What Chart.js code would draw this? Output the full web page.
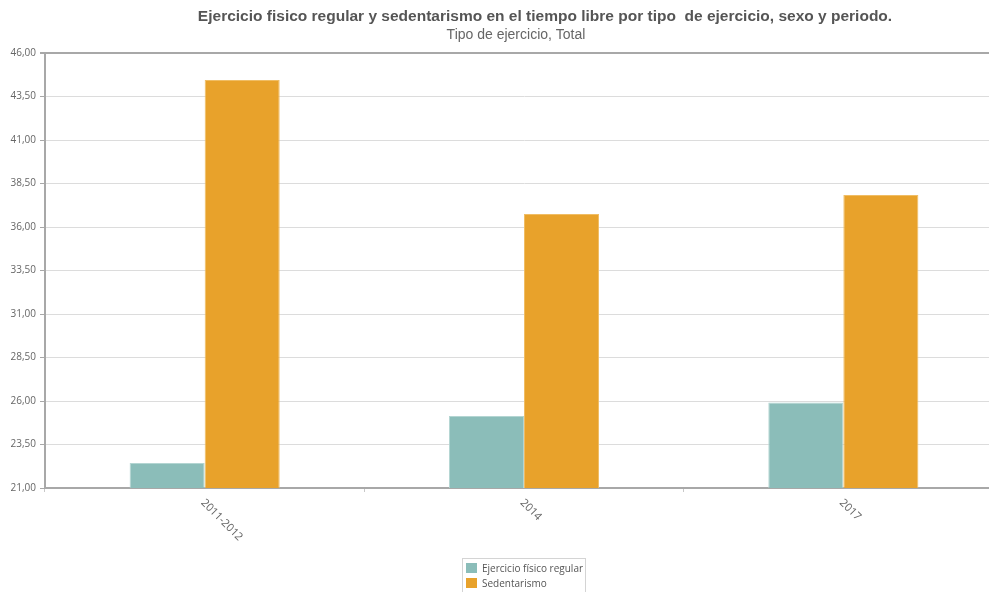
<!DOCTYPE html>
<html>
<head>
<meta charset="utf-8">
<script src="https://cdn.jsdelivr.net/npm/chart.js@4"></script>
<style>
    html, body { margin: 0; padding: 0; background: #fff; overflow: hidden; }
    #wrap { position: relative; width: 1090px; height: 592px; }
    #legend {
        position: absolute; left: 462px; top: 558px; width: 119px;
        border: 1px solid #d4d4d4; border-bottom: none; padding: 4px 0 0 3px;
        font: 10px "Open Sans", sans-serif; color: #555;
    }
    #legend div { height: 15px; line-height: 11px; white-space: nowrap; }
    #legend span { display: inline-block; width: 11px; height: 10px; margin-right: 5px; vertical-align: top; }
</style>
</head>
<body>
<div id="wrap">
    <canvas id="chart" width="1090" height="592"></canvas>
    <div id="legend"></div>
</div>
<script>
const periodos = ['2011-2012', '2014', '2017'];
const ejercicioRegular = [22.44, 25.14, 25.92];
const sedentarismo = [44.45, 36.75, 37.84];
const yMin = 21;
const yMax = 46;
const yStep = 2.5;

const titulo = 'Ejercicio fisico regular y sedentarismo en el tiempo libre por tipo  de ejercicio, sexo y periodo.';
const subtitulo = 'Tipo de ejercicio, Total';

// titulo y subtitulo (no van centrados igual en el original)
const titlesPlugin = {
    id: 'titles',
    afterDraw(chart) {
        const ctx = chart.ctx;
        ctx.save();
        ctx.textAlign = 'center';
        ctx.textBaseline = 'middle';
        ctx.fillStyle = '#555';
        ctx.font = 'bold 15.5px "Liberation Sans", Arial, sans-serif';
        ctx.fillText(titulo, 545, 17);
        ctx.fillStyle = '#666';
        ctx.font = '14px "Liberation Sans", Arial, sans-serif';
        ctx.fillText(subtitulo, 516, 35);
        ctx.restore();
    }
};

// etiquetas del eje x giradas en sentido horario
const xLabelsPlugin = {
    id: 'xLabels',
    afterDraw(chart) {
        const ctx = chart.ctx;
        const scale = chart.scales.x;
        ctx.save();
        ctx.font = '11px "Open Sans", sans-serif';
        ctx.fillStyle = '#666';
        ctx.textAlign = 'left';
        ctx.textBaseline = 'middle';
        scale.ticks.forEach((t, i) => {
            const x = scale.getPixelForTick(i);
            ctx.save();
            ctx.translate(x - 2, scale.top + 13);
            ctx.rotate(Math.PI / 4);
            ctx.fillText(scale.getLabelForValue(t.value), 0, 0);
            ctx.restore();
        });
        ctx.restore();
    }
};

const chart = new Chart(document.getElementById('chart').getContext('2d'), {
    type: 'bar',
    data: {
        labels: periodos,
        datasets: [{
            label: 'Ejercicio físico regular',
            data: ejercicioRegular,
            backgroundColor: '#8bbdb9',
            borderColor: '#b3d5d2',
            borderWidth: 1
        }, {
            label: 'Sedentarismo',
            data: sedentarismo,
            backgroundColor: '#e8a22b',
            borderColor: '#f0bd64',
            borderWidth: 1
        }]
    },
    options: {
        responsive: false,
        animation: false,
        layout: { padding: { left: 0, right: 87, top: 53, bottom: 0 } },
        datasets: {
            bar: { barPercentage: 1, categoryPercentage: 0.47 }
        },
        plugins: {
            legend: { display: false },
            tooltip: { enabled: false },
            title: { display: false }
        },
        scales: {
            x: {
                offset: true,
                border: { color: '#a8a8a8', width: 2 },
                grid: { drawOnChartArea: false, drawTicks: true, tickLength: 4, tickColor: '#c8c8c8', offset: true },
                ticks: { display: false },
                afterFit(scale) { scale.height = 104; }
            },
            y: {
                min: yMin,
                max: yMax,
                border: { color: '#a8a8a8', width: 2 },
                grid: {
                    color: ctx => ctx.tick && ctx.tick.value === yMax ? '#a8a8a8' : '#dcdcdc',
                    lineWidth: ctx => ctx.tick && ctx.tick.value === yMax ? 2 : 1,
                    tickLength: 5,
                    tickColor: '#a8a8a8'
                },
                ticks: {
                    stepSize: yStep,
                    color: '#666',
                    padding: 4,
                    font: { family: '"Open Sans", sans-serif', size: 10 },
                    callback: v => v.toFixed(2).replace('.', ',')
                },
                afterFit(scale) { scale.width = 45; }
            }
        }
    },
    plugins: [titlesPlugin, xLabelsPlugin]
});

document.getElementById('legend').innerHTML = chart.data.datasets
    .map(ds => `<div><span style="background:${ds.backgroundColor}"></span>${ds.label}</div>`)
    .join('');
</script>
</body>
</html>
